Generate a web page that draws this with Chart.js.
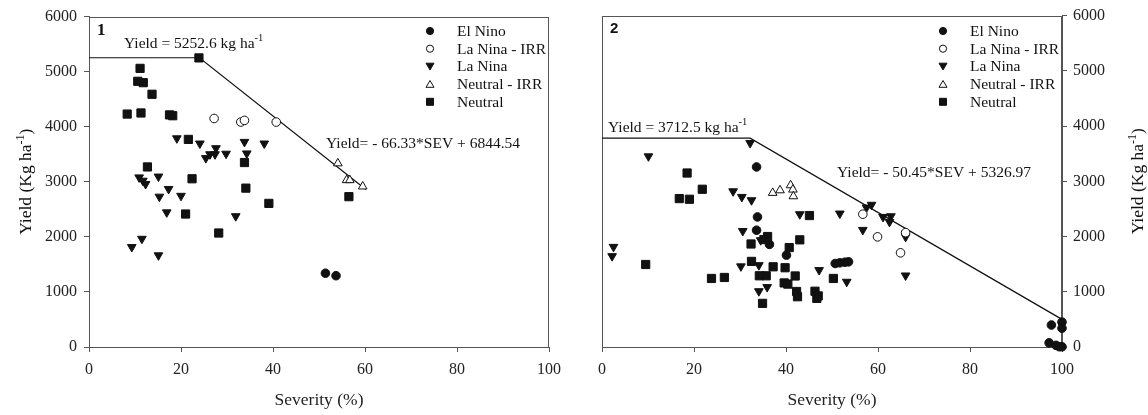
<!DOCTYPE html>
<html>
<head>
<meta charset="utf-8">
<script src="https://cdn.jsdelivr.net/npm/chart.js@4.4.0/dist/chart.umd.min.js"></script>
<style>
    html, body { margin: 0; padding: 0; background: #fff; }
    #wrap { position: relative; width: 1148px; height: 415px; }
    .panel { position: absolute; top: 0; width: 574px; height: 415px; }
</style>
</head>
<body>
<div id="wrap">
    <div class="panel" style="left:0"><canvas id="chart1"></canvas></div>
    <div class="panel" style="left:574px"><canvas id="chart2"></canvas></div>
</div>
<script>
// [severity %, yield kg/ha]
let elNino1 = [[51.4, 1340], [53.7, 1295]];
let laNinaIrr1 = [[27.2, 4150], [33.0, 4085], [33.8, 4115], [40.7, 4085]];
let laNina1 = [
    [19.1, 3790], [24.1, 3695], [27.6, 3610], [27.4, 3500], [26.3, 3500], [25.4, 3430], [29.8, 3510],
    [33.8, 3725], [34.3, 3515], [38.1, 3695], [10.9, 3080], [11.7, 3020], [12.3, 2960], [15.1, 3095],
    [17.3, 2870], [15.3, 2730], [20.0, 2745], [16.9, 2445], [31.9, 2375], [11.5, 1965], [9.3, 1815], [15.1, 1665],
];
let neutralIrr1 = [[54.1, 3335], [56.0, 3030], [56.7, 3030], [59.5, 2915]];
let neutral1 = [
    [23.9, 5250], [11.1, 5060], [10.6, 4825], [11.8, 4800], [13.7, 4590], [8.3, 4230], [11.3, 4250],
    [17.5, 4215], [18.2, 4200], [21.6, 3770], [12.7, 3270], [22.4, 3055], [33.8, 3350], [34.1, 2885],
    [39.1, 2608], [21.0, 2415], [28.2, 2070], [56.5, 2730],
];
let fitLine1 = [[0, 5252.6], [24.0, 5252.6], [60.2, 2860]];

let elNino2 = [
    [33.6, 3260], [33.8, 2355], [33.6, 2115], [36.4, 1858], [40.1, 1663], [50.7, 1512], [51.7, 1524],
    [52.8, 1535], [53.6, 1542], [97.7, 398], [100, 450], [100, 340], [97.2, 75], [98.7, 30], [99.4, 5], [100, 5],
];
let laNinaIrr2 = [[56.7, 2404], [59.9, 1994], [66.0, 2070], [64.9, 1705]];
let laNina2 = [
    [32.2, 3693], [10.1, 3452], [28.5, 2819], [30.4, 2717], [32.5, 2657], [30.6, 2100], [2.5, 1813],
    [2.2, 1645], [30.2, 1460], [34.1, 1482], [34.1, 1010], [35.9, 1085], [34.5, 1934], [43.0, 2404],
    [51.7, 2416], [58.6, 2575], [57.5, 2525], [61.1, 2355], [62.8, 2367], [62.5, 2265], [56.7, 2120],
    [66.0, 1994], [66.0, 1295], [47.2, 1392], [53.2, 1181],
];
let neutralIrr2 = [[37.1, 2790], [38.7, 2837], [41.0, 2928], [41.5, 2850], [41.6, 2729]];
let neutral2 = [
    [18.5, 3150], [21.8, 2856], [16.8, 2687], [19.0, 2675], [9.5, 1494], [23.8, 1241], [26.6, 1259],
    [32.4, 1865], [36.0, 2000], [35.2, 1946], [32.5, 1550], [37.2, 1452], [34.2, 1289], [35.7, 1289],
    [34.9, 790], [45.1, 2380], [43.0, 1940], [40.7, 1800], [39.8, 1435], [42.0, 1286], [39.6, 1160],
    [40.4, 1139], [42.3, 1005], [42.5, 910], [46.3, 1010], [47.0, 925], [46.7, 880], [50.3, 1241],
];
let fitLine2 = [[0, 3780], [32.2, 3780], [100, 500]];

let legendLabels = ['El Nino', 'La Nina - IRR', 'La Nina', 'Neutral - IRR', 'Neutral'];
let sevTicks = [0, 20, 40, 60, 80, 100];
let yieldTicks = [0, 1000, 2000, 3000, 4000, 5000, 6000];

let ink = '#111';
let frameColor = '#555';
let serif = "'Liberation Serif', 'Times New Roman', serif";

let markerStyles = [
    { pointStyle: 'circle', pointRadius: 4.3, backgroundColor: ink, borderColor: ink, borderWidth: 1 },
    { pointStyle: 'circle', pointRadius: 4.3, backgroundColor: '#fff', borderColor: ink, borderWidth: 1 },
    { pointStyle: 'triangle', pointRotation: 180, pointRadius: 5, backgroundColor: ink, borderColor: ink, borderWidth: 1 },
    { pointStyle: 'triangle', pointRadius: 5, backgroundColor: '#fff', borderColor: ink, borderWidth: 1 },
    { pointStyle: 'rect', pointRadius: 5.8, backgroundColor: ink, borderColor: ink, borderWidth: 1 },
];

function toPoints(arr) {
    return arr.map(p => ({ x: p[0], y: p[1] }));
}

function drawRich(ctx, parts, x, y, size) {
    let cx = x;
    parts.forEach(([txt, sup]) => {
        let s = sup ? size * 0.68 : size;
        ctx.font = s + 'px ' + serif;
        ctx.fillText(txt, cx, sup ? y - size * 0.42 : y);
        cx += ctx.measureText(txt).width;
    });
    return cx - x;
}

function richWidth(ctx, parts, size) {
    let w = 0;
    parts.forEach(([txt, sup]) => {
        ctx.font = (sup ? size * 0.68 : size) + 'px ' + serif;
        w += ctx.measureText(txt).width;
    });
    return w;
}

function legendMark(ctx, i, x, y) {
    ctx.beginPath();
    let r = 3.6;
    if (i === 0 || i === 1) {
        ctx.arc(x, y, r, 0, Math.PI * 2);
    } else if (i === 2) {
        ctx.moveTo(x - 4, y - 3.2); ctx.lineTo(x + 4, y - 3.2); ctx.lineTo(x, y + 3.6);
    } else if (i === 3) {
        ctx.moveTo(x - 4, y + 3.2); ctx.lineTo(x + 4, y + 3.2); ctx.lineTo(x, y - 3.6);
    } else {
        ctx.rect(x - 3.5, y - 3.5, 7, 7);
    }
    ctx.closePath();
    ctx.lineWidth = 1;
    ctx.strokeStyle = ink;
    ctx.fillStyle = (i === 1 || i === 3) ? '#fff' : ink;
    ctx.fill();
    ctx.stroke();
}

let panelText = {
    id: 'panelText',
    beforeDatasetsDraw(chart) {
        let a = chart.chartArea, ctx = chart.ctx;
        ctx.save();
        ctx.strokeStyle = frameColor;
        ctx.lineWidth = 1;
        ctx.strokeRect(Math.round(a.left) + 0.5, Math.round(a.top) + 0.5, Math.round(a.width) - 1, Math.round(a.height));
        ctx.restore();
    },
    afterDraw(chart, args, opts) {
        let ctx = chart.ctx;
        ctx.save();
        ctx.fillStyle = ink;
        ctx.textBaseline = 'alphabetic';
        ctx.textAlign = 'left';

        // panel number
        ctx.font = opts.num.font;
        ctx.fillText(opts.num.text, opts.num.x, opts.num.y);

        // plateau and slope labels
        drawRich(ctx, [[opts.plateau.text, 0], ['-1', 1]], opts.plateau.x, opts.plateau.y, 15.5);
        drawRich(ctx, [[opts.slope.text, 0]], opts.slope.x, opts.slope.y, 15.5);

        // legend
        legendLabels.forEach((lab, i) => {
            let y = opts.legend.y + i * 17.7;
            legendMark(ctx, i, opts.legend.symX, y);
            ctx.fillStyle = ink;
            ctx.font = '15.5px ' + serif;
            ctx.textBaseline = 'middle';
            ctx.fillText(lab, opts.legend.textX, y + 1);
        });

        // y axis title, reading bottom to top
        let parts = [['Yield (Kg ha', 0], ['-1', 1], [')', 0]];
        let size = 17.5;
        let w = richWidth(ctx, parts, size);
        ctx.translate(opts.yTitle.x, (chart.chartArea.top + chart.chartArea.bottom) / 2);
        ctx.rotate(-Math.PI / 2);
        ctx.textBaseline = 'alphabetic';
        drawRich(ctx, parts, -w / 2, size * 0.35, size);
        ctx.restore();
    },
};

function buildPanel(canvasId, series, fitLine, side, notes) {
    let ctx = document.getElementById(canvasId);

    let datasets = series.map((pts, i) => ({
        label: legendLabels[i],
        data: toPoints(pts),
        ...markerStyles[i],
        clip: false,
    }));
    datasets.push({
        label: 'fit',
        data: toPoints(fitLine),
        showLine: true,
        pointRadius: 0,
        borderColor: ink,
        borderWidth: 1.2,
        fill: false,
        clip: false,
    });

    let tickFont = { family: serif, size: 16 };
    let gridOpts = { display: true, drawOnChartArea: false, drawTicks: true, tickLength: 5, color: frameColor };

    new Chart(ctx, {
        type: 'scatter',
        data: { datasets: datasets },
        options: {
            maintainAspectRatio: false,
            responsive: true,
            animation: false,
            events: [],
            layout: {
                padding: side === 'left'
                    ? { top: 15, right: 25, left: 0, bottom: 0 }
                    : { top: 15, right: 0, left: 28, bottom: 0 },
            },
            plugins: {
                legend: { display: false },
                tooltip: { enabled: false },
                panelText: notes,
            },
            scales: {
                x: {
                    type: 'linear',
                    min: sevTicks[0],
                    max: sevTicks[sevTicks.length - 1],
                    ticks: {
                        stepSize: sevTicks[1] - sevTicks[0], font: tickFont, color: '#222', padding: 8,
                        callback: (v) => String(v),
                    },
                    grid: gridOpts,
                    border: { display: true, color: frameColor, width: 1 },
                    title: {
                        display: true,
                        text: 'Severity (%)',
                        color: '#222',
                        font: { family: serif, size: 17.5 },
                        padding: { top: 0, bottom: 4.5 },
                    },
                    afterFit(scale) { scale.height = 68; },
                },
                y: {
                    type: 'linear',
                    position: side,
                    min: yieldTicks[0],
                    max: yieldTicks[yieldTicks.length - 1],
                    ticks: {
                        stepSize: yieldTicks[1] - yieldTicks[0], font: tickFont, color: '#222',
                        padding: side === 'left' ? 7 : 6,
                        callback: (v) => String(v),
                    },
                    grid: gridOpts,
                    border: { display: true, color: frameColor, width: 1 },
                    afterFit(scale) { scale.width = side === 'left' ? 89 : 86; },
                },
            },
        },
        plugins: [panelText],
    });
}

buildPanel('chart1', [elNino1, laNinaIrr1, laNina1, neutralIrr1, neutral1], fitLine1, 'left', {
    num: { text: '1', x: 97, y: 35, font: 'bold 17px ' + serif },
    plateau: { text: 'Yield = 5252.6 kg ha', x: 124, y: 48 },
    slope: { text: 'Yield= - 66.33*SEV + 6844.54', x: 326, y: 148 },
    legend: { symX: 430, textX: 457, y: 31 },
    yTitle: { x: 25 },
});

buildPanel('chart2', [elNino2, laNinaIrr2, laNina2, neutralIrr2, neutral2], fitLine2, 'right', {
    num: { text: '2', x: 36, y: 33, font: "bold 15px 'Liberation Sans', Arial, sans-serif" },
    plateau: { text: 'Yield = 3712.5 kg ha', x: 34, y: 132 },
    slope: { text: 'Yield= - 50.45*SEV + 5326.97', x: 263, y: 177 },
    legend: { symX: 369, textX: 396, y: 31 },
    yTitle: { x: 563 },
});
</script>
</body>
</html>
